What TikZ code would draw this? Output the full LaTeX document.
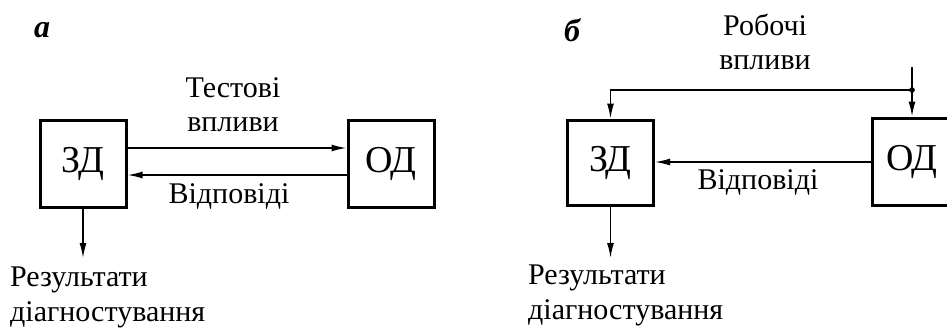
\documentclass[tikz,border=0pt]{standalone}
\usepackage{fontspec}
\setmainfont{Liberation Serif}
\usetikzlibrary{arrows.meta}
\begin{document}
\begin{tikzpicture}[x=1pt,y=-1pt,
  box/.style={draw,line width=3pt,minimum width=86pt,minimum height=87pt,inner sep=0pt,font=\fontsize{38}{40}\selectfont},
  lbl/.style={font=\fontsize{30}{34}\selectfont,inner sep=0pt,align=center},
  lbll/.style={font=\fontsize{30}{35}\selectfont,inner sep=0pt,align=left,anchor=west},
  tag/.style={font=\fontsize{32}{34}\selectfont\itshape\bfseries,inner sep=0pt},
  conn/.style={line width=1.5pt,-{Latex[length=15pt,width=7pt]}}]
\useasboundingbox (0,0) rectangle (947,327);
\clip (0,0) rectangle (947,327);
% panel a
\node[tag] (ta) at (42,30) {а};
\node[box] (zd1) at (83,163.5) {ЗД};
\node[box] (od1) at (391,163.5) {ОД};
\draw[conn] (zd1.east |- 0,148) -- (od1.west |- 0,148);
\draw[conn] (od1.west |- 0,175) -- (zd1.east |- 0,175);
\node[lbl] (test) at (233,105) {Тестові\\впливи};
\node[lbl] (vid1) at (229,196) {Відповіді};
\coordinate (r1) at (83,258);
\draw[conn] (zd1.south) -- (r1);
\node[lbll] (res1) at (10,297.5) {Результати\\діагностування};
% panel b
\node[tag] (tb) at (572,30) {б};
\node[box,minimum height=85pt] (zd2) at (610.5,162.5) {ЗД};
\node[box,minimum width=80pt] (od2) at (912,161.5) {ОД};
\coordinate (in) at (912,67);
\coordinate (j) at (912,90);
\draw[conn] (in) -- (od2.north);
\draw[conn] (j) -| (zd2.north);
\fill (j) circle (2.8pt);
\draw[conn] (od2.west |- 0,162) -- (zd2.east |- 0,162);
\node[lbl] (rob) at (765,41.5) {Робочі\\впливи};
\node[lbl] (vid2) at (758,182) {Відповіді};
\coordinate (r2) at (610.5,258);
\draw[conn] (zd2.south) -- (r2);
\node[lbll] (res2) at (528,295) {Результати\\діагностування};
\end{tikzpicture}
\end{document}
